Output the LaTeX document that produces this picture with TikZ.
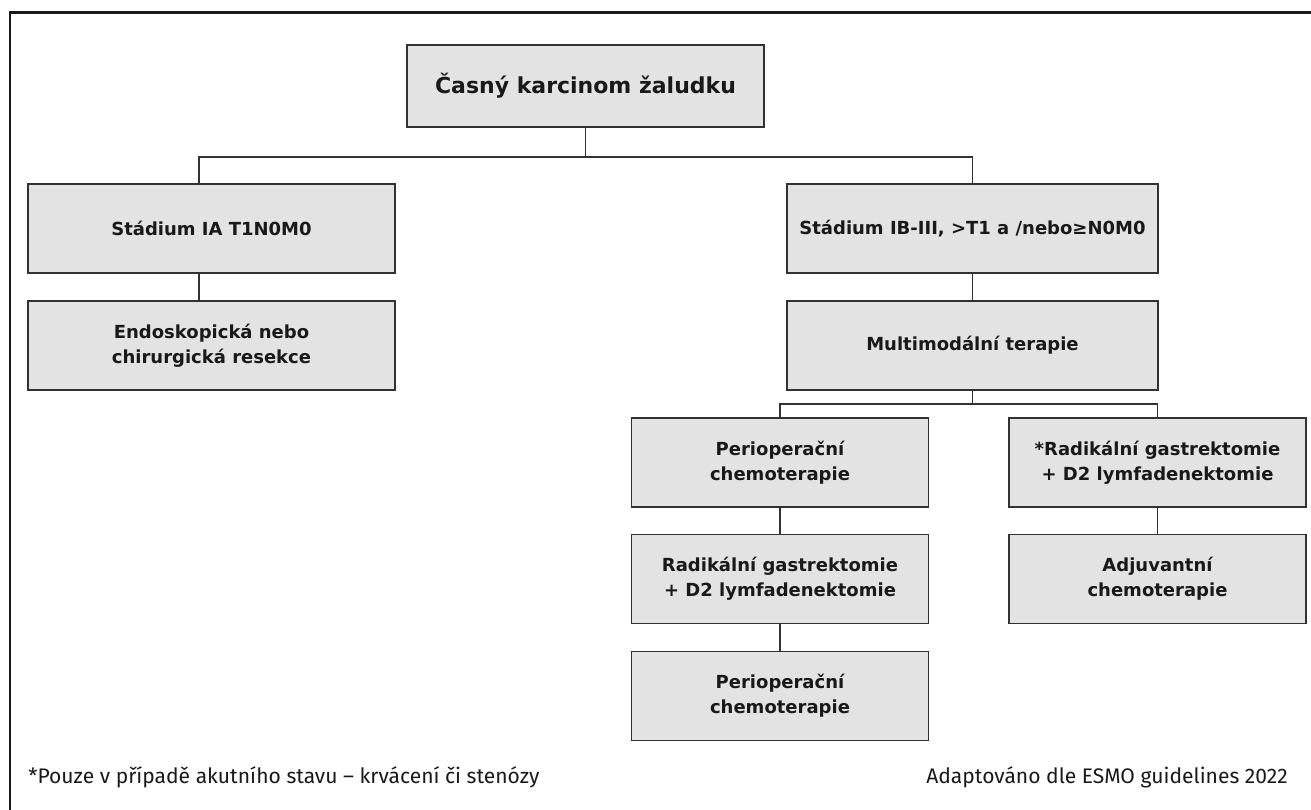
\documentclass[tikz,border=0pt]{standalone}
\usepackage{fontspec}
\setmainfont{Fira Sans}
\newfontfamily\boxfont{DejaVu Sans}
\usepackage{tikz}
\usetikzlibrary{positioning}
\usepackage{xcolor}
\definecolor{FillBox}{RGB}{227,227,227}
\definecolor{LineBox}{RGB}{50,50,50}
\definecolor{TextDark}{RGB}{25,25,25}

\begin{document}
\begin{tikzpicture}[
            x=0.75pt, y=-0.75pt,
            box/.style={draw=LineBox, fill=FillBox, line width=1.2pt, minimum height=66.75pt, align=center, text=TextDark, font=\boxfont\bfseries\fontsize{13.5}{18.75}\selectfont},
            widebox/.style={box, minimum width=275pt},
            narrowbox/.style={box, minimum width=223pt},
            titlebox/.style={box, minimum width=268pt, minimum height=61.5pt, font=\boxfont\bfseries\fontsize{16.5}{20}\selectfont},
            conn/.style={draw=LineBox, line width=0.95pt},
            note/.style={text=TextDark, font=\fontsize{15.8}{18}\selectfont, inner sep=0pt}
        ]
            \useasboundingbox (0,0) rectangle (1311,810);
            \draw[line width=1.9pt, draw=TextDark] (10,810) -- (10,12.5) -- (1311,12.5);

            \node[titlebox]  (title)  at (585.5,86)    {Časný karcinom žaludku};
            \node[widebox]   (stIA)   at (211.5,228.5) {Stádium IA T1N0M0};
            \node[widebox]   (endo)   at (211.5,345.5) {Endoskopická nebo\\chirurgická resekce};
            \node[widebox, minimum width=278pt] (stIB)  at (972.5,228.5) {Stádium IB-III, >T1 a /nebo≥N0M0};
            \node[widebox, minimum width=278pt] (multi) at (972.5,345.5) {Multimodální terapie};
            \node[narrowbox] (peri1)  at (780,462.5)   {Perioperační\\chemoterapie};
            \node[narrowbox] (radik)  at (1157.5,462.5) {*Radikální gastrektomie\\+ D2 lymfadenektomie};
            \node[narrowbox] (gastr)  at (780,579)     {Radikální gastrektomie\\+ D2 lymfadenektomie};
            \node[narrowbox] (adjuv)  at (1157.5,579)  {Adjuvantní\\chemoterapie};
            \node[narrowbox] (peri2)  at (780,696)     {Perioperační\\chemoterapie};

            \node[note, anchor=base west] (fnote)  at (28,783)   {*Pouze v případě akutního stavu – krvácení či stenózy};
            \node[note, anchor=base east] (source) at (1288,783) {Adaptováno dle ESMO guidelines 2022};

            \coordinate (bus1) at (585.5,157);
            \coordinate (bus2) at (972.5,404);
            \draw[conn] (title) -- (bus1);
            \draw[conn] ([xshift=-9.4pt]stIA.north) |- (bus1) -| (stIB);
            \draw[conn] ([xshift=-9.4pt]stIA.south) -- ([xshift=-9.4pt]endo.north);
            \draw[conn] (stIB) -- (multi);
            \draw[conn] (multi) -- (bus2);
            \draw[conn] (peri1) |- (bus2) -| (radik);
            \draw[conn] (peri1) -- (gastr);
            \draw[conn] (gastr) -- (peri2);
            \draw[conn] (radik) -- (adjuv);
        \end{tikzpicture}
\end{document}
